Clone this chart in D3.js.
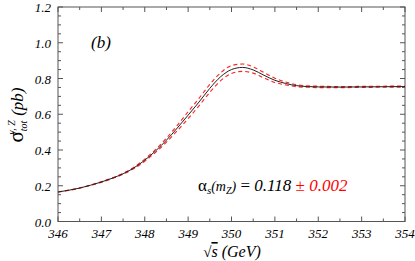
<!DOCTYPE html>
<html>
<head>
<meta charset="utf-8">
<script src="https://cdn.jsdelivr.net/npm/d3@7"></script>
<style>
  body { margin: 0; background: #fff; }
</style>
</head>
<body>
<div id="chart"></div>
<script>
// sqrt(s) in GeV
var energy = [346, 346.25, 346.5, 346.75, 347, 347.25, 347.5, 347.75, 348, 348.25, 348.5, 348.75,
  349, 349.25, 349.5, 349.75, 350, 350.25, 350.5, 350.75, 351, 351.25, 351.5, 351.75, 352, 352.5, 353, 353.5, 354];
// alpha_s = 0.118
var central = [0.165, 0.175, 0.187, 0.203, 0.221, 0.242, 0.267, 0.300, 0.343, 0.395, 0.455, 0.523,
  0.595, 0.668, 0.745, 0.810, 0.850, 0.862, 0.848, 0.818, 0.790, 0.772, 0.760, 0.755, 0.753, 0.752, 0.753, 0.754, 0.755];
// alpha_s = 0.118 +/- 0.002
var upper = [0.166, 0.176, 0.188, 0.204, 0.223, 0.244, 0.270, 0.304, 0.349, 0.403, 0.466, 0.538,
  0.614, 0.689, 0.767, 0.832, 0.872, 0.881, 0.865, 0.833, 0.802, 0.780, 0.766, 0.759, 0.757, 0.755, 0.756, 0.757, 0.758];
var lower = [0.164, 0.174, 0.186, 0.202, 0.219, 0.240, 0.264, 0.296, 0.337, 0.387, 0.444, 0.508,
  0.576, 0.647, 0.723, 0.788, 0.828, 0.840, 0.830, 0.803, 0.778, 0.764, 0.754, 0.751, 0.749, 0.749, 0.750, 0.751, 0.752];

var xTicks = [346, 347, 348, 349, 350, 351, 352, 353, 354];
var yTicks = [0.0, 0.2, 0.4, 0.6, 0.8, 1.0, 1.2];

var W = 415, H = 261;
var mLeft = 58, mRight = 405, mTop = 7, mBottom = 221.5;
var serif = '"Liberation Serif", "Times New Roman", Times, "DejaVu Serif", serif';

var svg = d3.select('#chart').append('svg')
  .attr('width', W).attr('height', H)
  .attr('font-family', serif);

var x = d3.scaleLinear().domain([346, 354]).range([mLeft, mRight]);
var y = d3.scaleLinear().domain([0, 1.2]).range([mBottom, mTop]);

var axisColor = '#555';

// frame
svg.append('rect')
  .attr('x', mLeft).attr('y', mTop)
  .attr('width', mRight - mLeft).attr('height', mBottom - mTop)
  .style('fill', 'none').style('stroke', axisColor).style('stroke-width', 1);

// ticks (inward, all four sides)
var xMinor = d3.range(346, 354.01, 0.5);
var yMinor = d3.range(0, 1.2001, 0.05);
function tickLen(v, step) { return Math.abs(v / step - Math.round(v / step)) < 1e-6 ? 5 : 3; }

var g = svg.append('g').style('stroke', axisColor).style('stroke-width', 1);
xMinor.forEach(function(v) {
  var L = tickLen(v, 1);
  g.append('line').attr('x1', x(v)).attr('x2', x(v)).attr('y1', mBottom).attr('y2', mBottom - L);
  g.append('line').attr('x1', x(v)).attr('x2', x(v)).attr('y1', mTop).attr('y2', mTop + L);
});
yMinor.forEach(function(v) {
  var L = tickLen(v, 0.2);
  g.append('line').attr('y1', y(v)).attr('y2', y(v)).attr('x1', mLeft).attr('x2', mLeft + L);
  g.append('line').attr('y1', y(v)).attr('y2', y(v)).attr('x1', mRight).attr('x2', mRight - L);
});

// tick labels
svg.selectAll('.xl').data(xTicks).enter().append('text')
  .attr('x', function(d) { return x(d); })
  .attr('y', 238)
  .attr('text-anchor', 'middle')
  .style('font-size', '13px').style('font-style', 'italic')
  .text(function(d) { return d; });

svg.selectAll('.yl').data(yTicks).enter().append('text')
  .attr('x', 51)
  .attr('y', function(d) { return y(d) + 5; })
  .attr('text-anchor', 'end')
  .style('font-size', '13px').style('font-style', 'italic')
  .text(function(d) { return d.toFixed(1); });

// curves
var line = d3.line()
  .x(function(d, i) { return x(energy[i]); })
  .y(function(d) { return y(d); })
  .curve(d3.curveMonotoneX);

svg.append('path').datum(upper).attr('d', line)
  .style('fill', 'none').style('stroke', '#ff2020').style('stroke-width', 1.1)
  .style('stroke-dasharray', '4,3');
svg.append('path').datum(lower).attr('d', line)
  .style('fill', 'none').style('stroke', '#ff2020').style('stroke-width', 1.1)
  .style('stroke-dasharray', '4,3');
svg.append('path').datum(central).attr('d', line)
  .style('fill', 'none').style('stroke', '#222').style('stroke-width', 1);

// panel label
svg.append('text').attr('x', 91).attr('y', 48)
  .style('font-size', '17px').style('font-style', 'italic').text('(b)');

// alpha_s annotation
var ann = svg.append('text').attr('x', 198).attr('y', 191)
  .style('font-size', '17px').style('font-style', 'italic');
ann.append('tspan').style('font-style', 'normal').text('α');
ann.append('tspan').attr('dy', 3).style('font-size', '11px').text('s');
ann.append('tspan').attr('dy', -3).style('font-size', '14px').text('(m');
ann.append('tspan').attr('dy', 3).style('font-size', '10px').text('Z');
ann.append('tspan').attr('dy', -3).style('font-size', '14px').text(')');
ann.append('tspan').style('font-style', 'normal').text(' = ');
ann.append('tspan').text('0.118 ');
ann.append('tspan').style('fill', '#ff0000').style('font-style', 'normal').text('±');
ann.append('tspan').style('fill', '#ff0000').text(' 0.002');

// x title
var xt = svg.append('text').attr('x', 232).attr('y', 257)
  .attr('text-anchor', 'middle')
  .style('font-size', '16px').style('font-style', 'italic');
xt.append('tspan').style('font-style', 'normal').style('font-size', '15px').text('√');
xt.append('tspan').style('text-decoration', 'overline').text('s');
xt.append('tspan').text(' (GeV)');

// y title
var yt = svg.append('text')
  .attr('transform', 'translate(23,' + 115 + ') rotate(-90)')
  .attr('text-anchor', 'middle')
  .style('font-size', '17px').style('font-style', 'italic');
yt.append('tspan').style('font-style', 'normal').style('font-size', '21px').text('σ');
yt.append('tspan').attr('dy', 4).style('font-size', '10px').text('tot');
yt.append('tspan').attr('dx', -14).attr('dy', -12).style('font-size', '10px').text('γ, Z');
yt.append('tspan').attr('dy', 8).text(' (pb)');
</script>
</body>
</html>
